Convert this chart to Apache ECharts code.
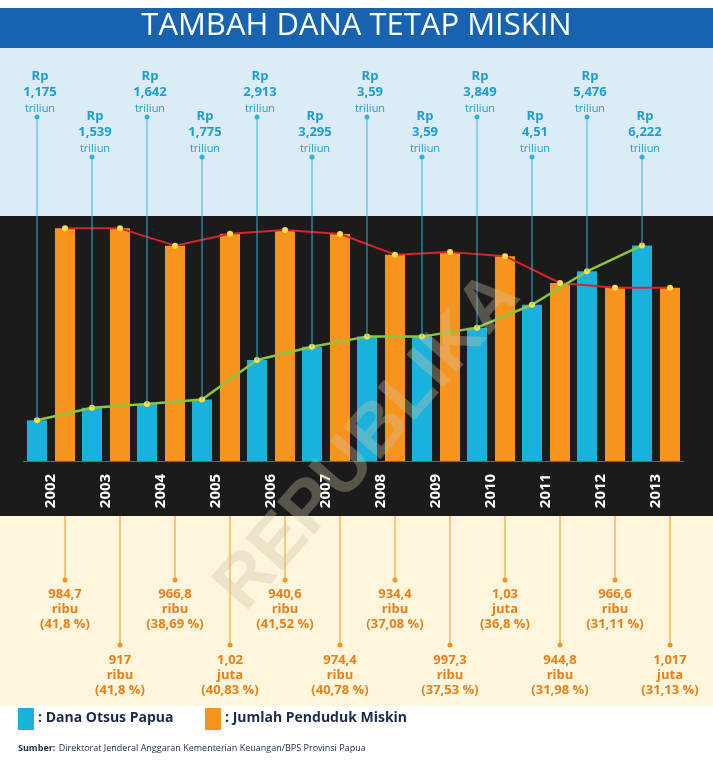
<!DOCTYPE html>
<html><head><meta charset="utf-8">
<script src="https://cdn.jsdelivr.net/npm/echarts@6/dist/echarts.min.js"></script>
<style>html,body{margin:0;padding:0;background:#fff}#c{width:713px;height:770px}</style>
</head><body><div id="c"></div>
<script>
const years = ['2002','2003','2004','2005','2006','2007','2008','2009','2010','2011','2012','2013'];
const otsus = [1.175,1.539,1.642,1.775,2.913,3.295,3.59,3.59,3.849,4.51,5.476,6.222];
const otsusText = ['1,175','1,539','1,642','1,775','2,913','3,295','3,59','3,59','3,849','4,51','5,476','6,222'];
const miskinPct = [41.8,41.8,38.69,40.83,41.52,40.78,37.08,37.53,36.8,31.98,31.11,31.13];
const miskinNum = ['984,7','917','966,8','1,02','940,6','974,4','934,4','997,3','1,03','944,8','966,6','1,017'];
const miskinUnit = ['ribu','ribu','ribu','juta','ribu','ribu','ribu','ribu','juta','ribu','ribu','juta'];
const miskinPctText = ['41,8 %','41,8 %','38,69 %','40,83 %','41,52 %','40,78 %','37,08 %','37,53 %','36,8 %','31,98 %','31,11 %','31,13 %'];

const CYAN='#19b2dc', ORANGE='#f7941d', TXTC='#1a9fd0', TXTO='#e8801a';
const chart = echarts.init(document.getElementById('c'));
const OFF = 14, OFFV = 0.255;
chart.setOption({
  backgroundColor:'#fff',
  animation:false,
  graphic:[
    {type:'rect',shape:{x:0,y:48,width:713,height:168},style:{fill:'#dcecf7'},z:-10},
    {type:'rect',shape:{x:0,y:216,width:713,height:300},style:{fill:'#1b1b1b'},z:-10},
    {type:'rect',shape:{x:0,y:516,width:713,height:190},style:{fill:'#fdf5dc'},z:-10},
    {type:'rect',shape:{x:0,y:8,width:713,height:40},style:{fill:'#1763b0'},z:-10},
    {type:'text',left:'center',top:11,style:{text:'TAMBAH DANA TETAP MISKIN',fill:'#fff',font:'31px "Open Sans", sans-serif'}},
    {type:'text',x:230,y:600,rotation:0.85,style:{text:'REPUBLIKA',fill:'rgba(205,195,165,0.35)',font:'bold 72px "Liberation Sans", sans-serif',verticalAlign:'middle'},z:100},
    {type:'rect',shape:{x:18,y:708,width:16,height:22},style:{fill:CYAN}},
    {type:'text',x:38,y:711,style:{text:': Dana Otsus Papua',fill:'#1a2a4a',font:'bold 14px "Open Sans", sans-serif'}},
    {type:'rect',shape:{x:205,y:708,width:16,height:22},style:{fill:ORANGE}},
    {type:'text',x:225,y:711,style:{text:': Jumlah Penduduk Miskin',fill:'#1a2a4a',font:'bold 14px "Open Sans", sans-serif'}},
    {type:'text',x:18,y:742,style:{rich:{b:{font:'bold 9px "Open Sans", sans-serif',fill:'#1a2a4a'},n:{font:'9px "Open Sans", sans-serif',fill:'#1a2a4a'}},text:'{b|Sumber:} {n|Direktorat Jenderal Anggaran Kementerian Keuangan/BPS Provinsi Papua}'}}
  ],
  grid:{left:23.5,right:29.5,top:215,bottom:309},
  xAxis:[
    {type:'category',data:years,axisLine:{show:true,lineStyle:{color:'#666',width:1}},axisTick:{show:false},
     axisLabel:{rotate:90,color:'#fff',fontWeight:'bold',fontSize:15,margin:30,fontFamily:'"Open Sans", sans-serif',verticalAlign:'middle',align:'center'}},
    {type:'value',min:-0.5,max:11.5,show:false}
  ],
  yAxis:[
    {type:'value',min:0,max:7.1,show:false,splitLine:{show:false}},
    {type:'value',min:0,max:44.2,show:false,splitLine:{show:false}}
  ],
  series:[
    {type:'bar',data:otsus,barWidth:20,barGap:'40%',itemStyle:{color:CYAN},z:2},
    {type:'bar',data:miskinPct,yAxisIndex:1,barWidth:20,itemStyle:{color:ORANGE},z:2},
    {type:'line',xAxisIndex:1,yAxisIndex:1,data:miskinPct.map((v,i)=>[i+OFFV,v]),
     lineStyle:{color:'#d8242a',width:2},symbol:'circle',symbolSize:6,itemStyle:{color:'#f7e04a'},z:5},
    {type:'line',xAxisIndex:1,yAxisIndex:0,data:otsus.map((v,i)=>[i-OFFV,v]),
     lineStyle:{color:'#8cc63f',width:2.5},symbol:'circle',symbolSize:6,itemStyle:{color:'#f7e04a'},z:5},
    {type:'custom',yAxisIndex:0,data:otsus.map((v,i)=>[i,v]),z:6,
     renderItem:function(params,api){
       const i=api.value(0); const p=api.coord([i,api.value(1)]);
       const x=p[0]-OFF; const odd=i%2===1; const ty=odd?110:70; const ly=odd?157:117;
       return {type:'group',children:[
         {type:'line',shape:{x1:x,y1:ly,x2:x,y2:p[1]},style:{stroke:'#2bb5dd',lineWidth:1}},
         {type:'circle',shape:{cx:x,cy:ly,r:2.5},style:{fill:'#2bb5dd'}},
         {type:'text',x:x+3,y:ty,style:{text:'Rp',fill:TXTC,font:'bold 13px "Open Sans", sans-serif',align:'center'}},
         {type:'text',x:x+3,y:ty+16,style:{text:otsusText[i],fill:TXTC,font:'bold 13px "Open Sans", sans-serif',align:'center'}},
         {type:'text',x:x+3,y:ty+33,style:{text:'triliun',fill:TXTC,font:'11px "Open Sans", sans-serif',align:'center'}}
       ]};
     }},
    {type:'custom',yAxisIndex:1,data:miskinPct.map((v,i)=>[i,v]),z:6,
     renderItem:function(params,api){
       const i=api.value(0); const p=api.coord([i,api.value(1)]);
       const x=p[0]+OFF; const odd=i%2===1; const ty=odd?654:588; const ly=odd?645:580;
       return {type:'group',children:[
         {type:'line',shape:{x1:x,y1:516,x2:x,y2:ly},style:{stroke:ORANGE,lineWidth:1}},
         {type:'circle',shape:{cx:x,cy:ly,r:2.5},style:{fill:ORANGE}},
         {type:'text',x:x,y:ty,style:{text:miskinNum[i],fill:TXTO,font:'bold 13px "Open Sans", sans-serif',align:'center'}},
         {type:'text',x:x,y:ty+15,style:{text:miskinUnit[i],fill:TXTO,font:'bold 13px "Open Sans", sans-serif',align:'center'}},
         {type:'text',x:x,y:ty+30,style:{text:'('+miskinPctText[i]+')',fill:TXTO,font:'bold 13px "Open Sans", sans-serif',align:'center'}}
       ]};
     }}
  ]
});
</script></body></html>
